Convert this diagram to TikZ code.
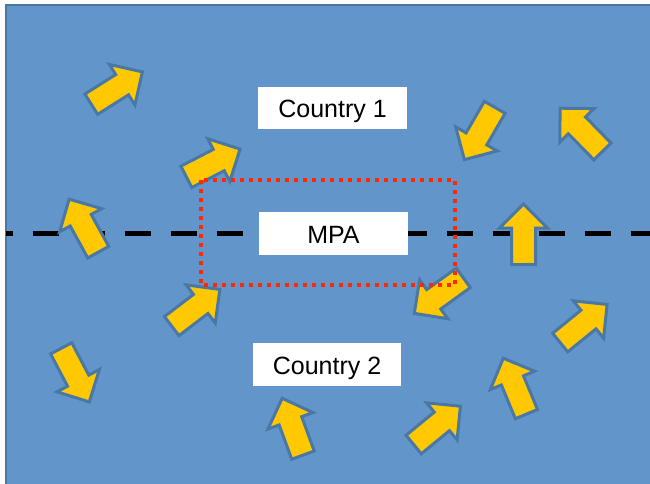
\documentclass[tikz,border=0pt]{standalone}
\usepackage{fontspec}
\setmainfont{Liberation Sans}
\definecolor{seablue}{RGB}{98,149,201}
\definecolor{seaedge}{RGB}{74,120,166}
\definecolor{arrowfill}{RGB}{255,200,0}
\definecolor{mpared}{RGB}{255,40,0}
\tikzset{
  arrowblk/.style={fill=arrowfill, draw=seaedge, line width=3pt, line join=miter},
  labelbox/.style={fill=white, draw=none, inner sep=0pt, text height=19pt, text depth=0pt,
    font=\fontsize{25}{30}\selectfont},
  border/.style={black, line width=5.5pt, dash pattern=on 26pt off 20pt, dash phase=19.5pt},
  mpabox/.style={draw=mpared, line width=4pt, dash pattern=on 4pt off 5pt}
}
% block arrow: tail centre (#1,#2), direction #3 degrees
\newcommand\blockarrow[3]{%
  \draw[arrowblk, shift={(#1,#2)}, rotate=#3]
    (1.5pt,-12pt) -- (38pt,-12pt) -- (38pt,-24pt) -- (62pt,0pt)
    -- (38pt,24pt) -- (38pt,12pt) -- (1.5pt,12pt) -- cycle;}
\begin{document}
\begin{tikzpicture}[x=1pt, y=-1pt]
  \clip (0,0) rectangle (650,483);
  % sea
  \draw[fill=seablue, draw=seaedge, line width=2.5pt] (6.2,5.2) rectangle (670,500);
  % border line
  \coordinate (lineW) at (6.2,233.5);
  \coordinate (lineE) at (660,233.5);
  \draw[border] (lineW) -- (lineE);
  % fish movement arrows
  \blockarrow{90}{105}{32.3}
  \blockarrow{185}{177.5}{27.3}
  \blockarrow{99}{253.5}{118.8}
  \blockarrow{170.5}{327}{37.3}
  \blockarrow{60.5}{347}{-62.3}
  \blockarrow{303.5}{456.5}{110.1}
  \blockarrow{412.5}{445.5}{39.4}
  \blockarrow{527}{415.5}{112.5}
  \blockarrow{559}{343.5}{39.1}
  \blockarrow{464.5}{277}{-144.1}
  \blockarrow{523.5}{266}{90}
  \blockarrow{495.5}{106}{-120.1}
  \blockarrow{603.5}{152.5}{134.4}
  % labels
  \node[labelbox, minimum width=149pt, minimum height=42pt] (c1) at (332.5,108) {Country 1};
  \node[labelbox, minimum width=149pt, minimum height=43pt] (mpa) at (333.5,233.5) {MPA};
  \node[labelbox, minimum width=148pt, minimum height=43pt] (c2) at (327,364.5) {Country 2};
  % protected area
  \coordinate (mpaNW) at (201,180);
  \coordinate (mpaSE) at (455,285);
  \draw[mpabox] (mpaNW) rectangle (mpaSE);
\end{tikzpicture}
\end{document}
